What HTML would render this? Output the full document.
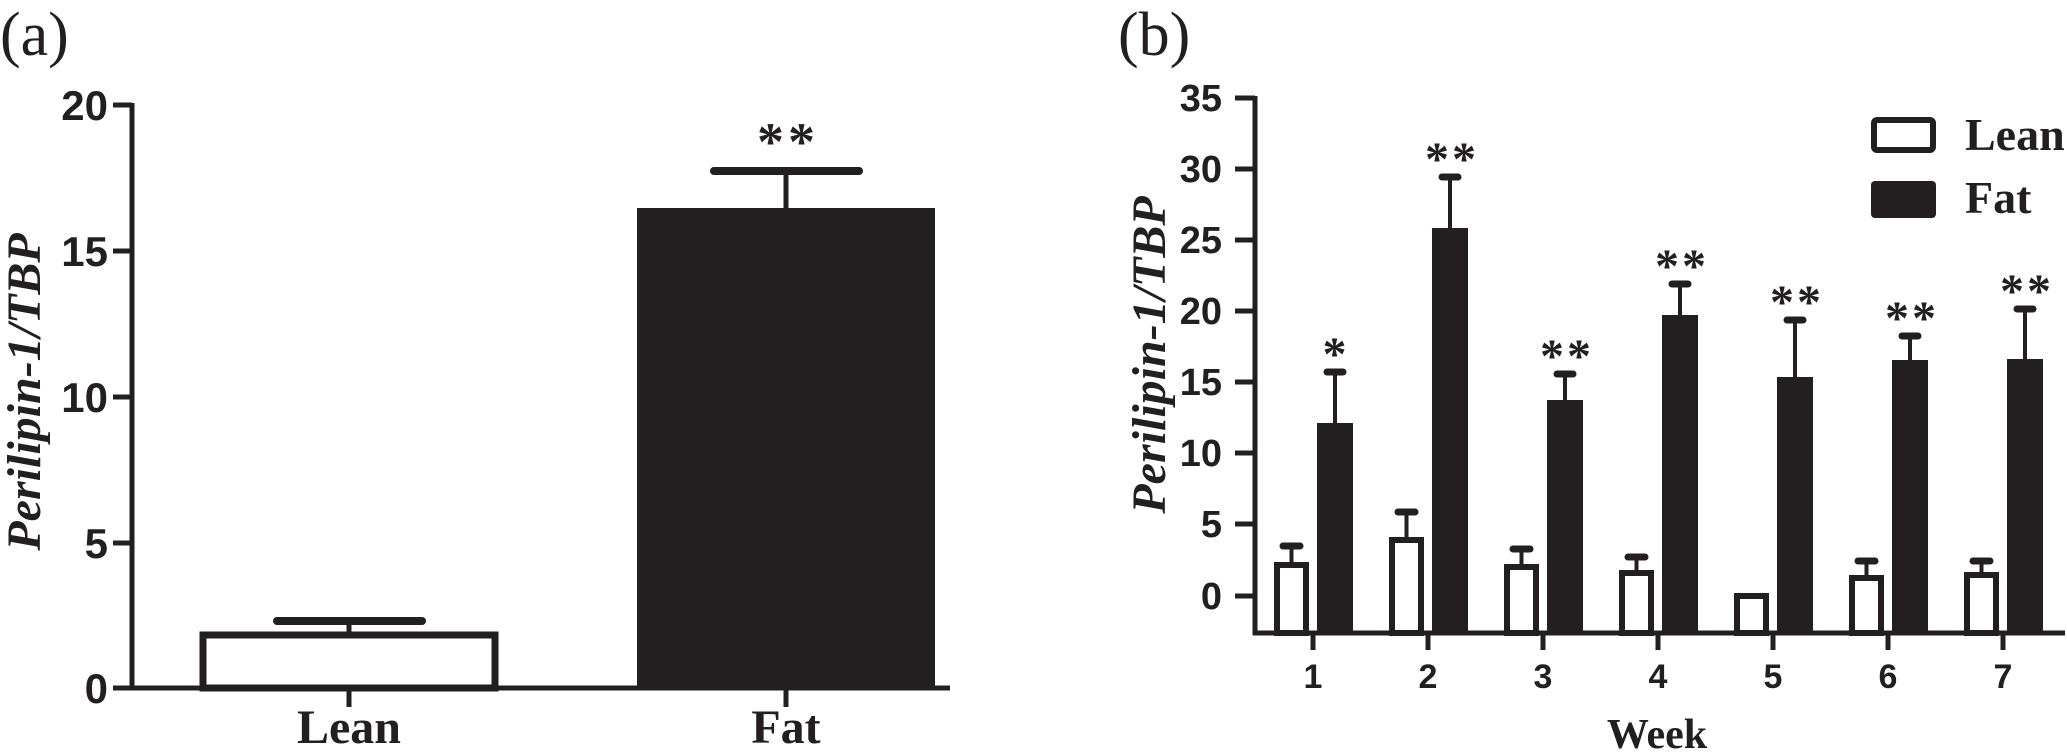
<!DOCTYPE html>
<html><head><meta charset="utf-8"><style>
html,body{margin:0;padding:0;background:#fff;}
svg{display:block;}
.tk{font-family:"Liberation Sans",Arial,sans-serif;font-weight:bold;fill:#231f20;}
.sf{font-family:"Liberation Serif","Times New Roman",serif;fill:#231f20;}
</style></head><body>
<svg width="2067" height="754" viewBox="0 0 2067 754" xmlns="http://www.w3.org/2000/svg">
<g stroke="#231f20" fill="none">
<line x1="132" y1="103" x2="132" y2="690" stroke-width="5"/>
<line x1="113" y1="688" x2="950" y2="688" stroke-width="5"/>
<g stroke-width="5">
<line x1="113" y1="105" x2="132" y2="105"/>
<line x1="113" y1="251" x2="132" y2="251"/>
<line x1="113" y1="397" x2="132" y2="397"/>
<line x1="113" y1="543" x2="132" y2="543"/>
<line x1="349" y1="688" x2="349" y2="707"/>
<line x1="786" y1="688" x2="786" y2="707"/>
</g>
<rect x="203" y="635" width="292" height="53" stroke-width="7"/>
<line x1="349" y1="632" x2="349" y2="621" stroke-width="5"/>
<line x1="277" y1="621" x2="422" y2="621" stroke-width="8" stroke-linecap="round"/>
<rect x="637" y="208" width="298" height="480" fill="#231f20" stroke="none"/>
<line x1="786" y1="208" x2="786" y2="171" stroke-width="5"/>
<line x1="714" y1="171" x2="859" y2="171" stroke-width="8" stroke-linecap="round"/>

<line x1="1255" y1="96" x2="1255" y2="635" stroke-width="5"/>
<line x1="1253" y1="633" x2="2065" y2="633" stroke-width="5"/>
<g stroke-width="5">
<line x1="1235" y1="98" x2="1255" y2="98"/>
<line x1="1235" y1="169" x2="1255" y2="169"/>
<line x1="1235" y1="240" x2="1255" y2="240"/>
<line x1="1235" y1="311" x2="1255" y2="311"/>
<line x1="1235" y1="382" x2="1255" y2="382"/>
<line x1="1235" y1="453" x2="1255" y2="453"/>
<line x1="1235" y1="524" x2="1255" y2="524"/>
<line x1="1235" y1="596" x2="1255" y2="596"/>
<line x1="1313" y1="633" x2="1313" y2="650"/>
<line x1="1428" y1="633" x2="1428" y2="650"/>
<line x1="1543" y1="633" x2="1543" y2="650"/>
<line x1="1658" y1="633" x2="1658" y2="650"/>
<line x1="1773" y1="633" x2="1773" y2="650"/>
<line x1="1888" y1="633" x2="1888" y2="650"/>
<line x1="2003" y1="633" x2="2003" y2="650"/>
</g>
<g stroke-width="6">
<rect x="1277" y="565" width="29" height="68"/>
<rect x="1392" y="540" width="29" height="93"/>
<rect x="1507" y="567" width="29" height="66"/>
<rect x="1622" y="573" width="29" height="60"/>
<rect x="1737" y="596" width="29" height="37"/>
<rect x="1852" y="578" width="29" height="55"/>
<rect x="1967" y="575" width="29" height="58"/>
</g>
<g stroke-width="4">
<line x1="1291.5" y1="562" x2="1291.5" y2="546"/>
<line x1="1406.5" y1="537" x2="1406.5" y2="512"/>
<line x1="1521.5" y1="564" x2="1521.5" y2="549"/>
<line x1="1636.5" y1="570" x2="1636.5" y2="557"/>
<line x1="1866.5" y1="575" x2="1866.5" y2="561"/>
<line x1="1981.5" y1="572" x2="1981.5" y2="561"/>
</g>
<g stroke-width="7" stroke-linecap="round">
<line x1="1283" y1="546" x2="1300" y2="546"/>
<line x1="1398" y1="512" x2="1415" y2="512"/>
<line x1="1513" y1="549" x2="1530" y2="549"/>
<line x1="1628" y1="557" x2="1645" y2="557"/>
<line x1="1858" y1="561" x2="1875" y2="561"/>
<line x1="1973" y1="561" x2="1990" y2="561"/>
</g>
<g fill="#231f20" stroke="none">
<rect x="1317" y="423" width="36" height="210"/>
<rect x="1432" y="228" width="36" height="405"/>
<rect x="1547" y="400" width="36" height="233"/>
<rect x="1662" y="315" width="36" height="318"/>
<rect x="1777" y="377" width="36" height="256"/>
<rect x="1892" y="360" width="36" height="273"/>
<rect x="2007" y="359" width="36" height="274"/>
</g>
<g stroke-width="4">
<line x1="1335" y1="423" x2="1335" y2="372"/>
<line x1="1450" y1="228" x2="1450" y2="177"/>
<line x1="1565" y1="400" x2="1565" y2="374"/>
<line x1="1680" y1="315" x2="1680" y2="284"/>
<line x1="1795" y1="377" x2="1795" y2="320"/>
<line x1="1910" y1="360" x2="1910" y2="336"/>
<line x1="2025" y1="359" x2="2025" y2="309"/>
</g>
<g stroke-width="7" stroke-linecap="round">
<line x1="1327" y1="372" x2="1343" y2="372"/>
<line x1="1442" y1="177" x2="1458" y2="177"/>
<line x1="1557" y1="374" x2="1573" y2="374"/>
<line x1="1672" y1="284" x2="1688" y2="284"/>
<line x1="1787" y1="320" x2="1803" y2="320"/>
<line x1="1902" y1="336" x2="1918" y2="336"/>
<line x1="2017" y1="309" x2="2033" y2="309"/>
</g>
<rect x="1874" y="120" width="59" height="30" rx="3" stroke-width="6"/>
<rect x="1871" y="181" width="65" height="37" rx="4" fill="#231f20" stroke="none"/>
</g>

<text class="sf" x="0" y="55" font-size="62">(a)</text>
<text class="sf" x="1118" y="55" font-size="62">(b)</text>

<g class="tk" font-size="42" text-anchor="end">
<text x="108" y="120">20</text>
<text x="108" y="266">15</text>
<text x="108" y="412">10</text>
<text x="108" y="558">5</text>
<text x="108" y="703">0</text>
</g>
<g class="tk" font-size="38" text-anchor="end">
<text x="1222" y="111">35</text>
<text x="1222" y="182">30</text>
<text x="1222" y="253">25</text>
<text x="1222" y="324">20</text>
<text x="1222" y="395">15</text>
<text x="1222" y="466">10</text>
<text x="1222" y="537">5</text>
<text x="1222" y="609">0</text>
</g>
<g class="tk" font-size="34" text-anchor="middle">
<text x="1313" y="688">1</text>
<text x="1428" y="688">2</text>
<text x="1543" y="688">3</text>
<text x="1658" y="688">4</text>
<text x="1773" y="688">5</text>
<text x="1888" y="688">6</text>
<text x="2003" y="688">7</text>
</g>
<g class="sf" font-weight="bold" text-anchor="middle">
<text x="349" y="743" font-size="48">Lean</text>
<text x="786" y="743" font-size="48">Fat</text>
<text x="1657" y="748" font-size="42">Week</text>
</g>
<text class="sf" font-weight="bold" font-size="46" x="1965" y="150">Lean</text>
<text class="sf" font-weight="bold" font-size="46" x="1965" y="213">Fat</text>

<text class="sf" font-weight="bold" font-style="italic" font-size="48" text-anchor="middle" transform="translate(40,392) rotate(-90)">Perilipin-1/TBP</text>
<text class="sf" font-weight="bold" font-style="italic" font-size="48" text-anchor="middle" transform="translate(1165,355) rotate(-90)">Perilipin-1/TBP</text>

<g class="sf" font-size="54" font-weight="bold" text-anchor="middle" letter-spacing="4">
<text x="788" y="160">**</text>
</g>
<g class="sf" font-size="48" font-weight="bold" text-anchor="middle" letter-spacing="3">
<text x="1336" y="370">*</text>
<text x="1452" y="175">**</text>
<text x="1567" y="372">**</text>
<text x="1682" y="282">**</text>
<text x="1797" y="318">**</text>
<text x="1912" y="334">**</text>
<text x="2027" y="307">**</text>
</g>
</svg>
</body></html>
